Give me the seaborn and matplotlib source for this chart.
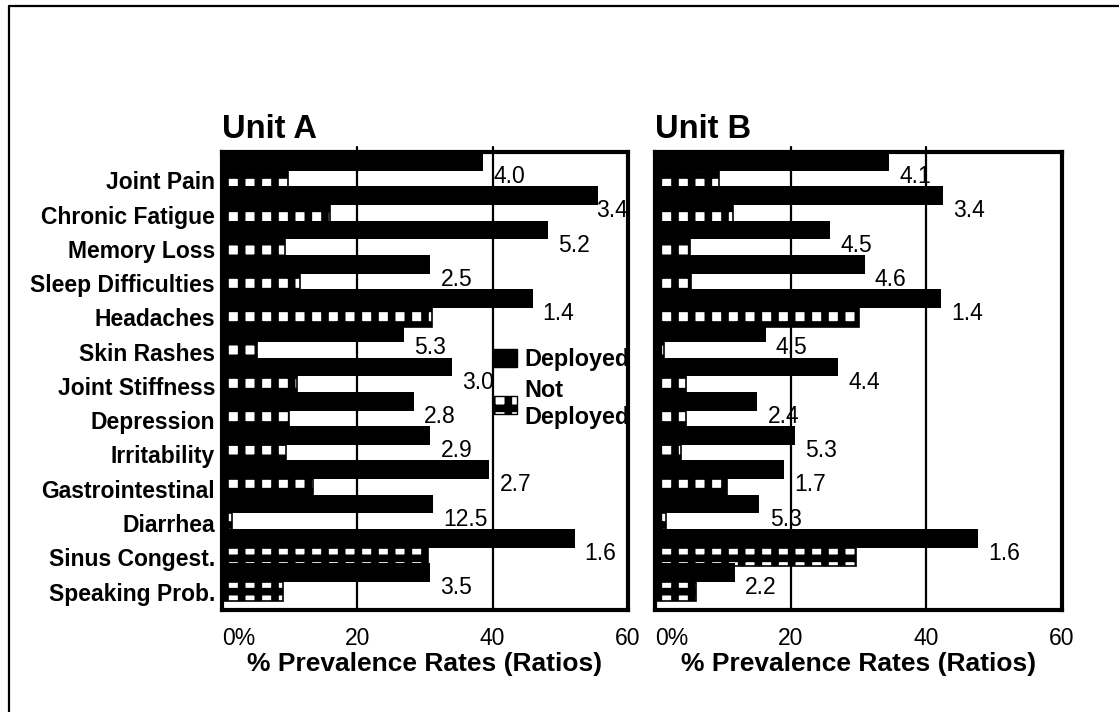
import numpy as np
import pandas as pd
import matplotlib
matplotlib.use("Agg")
import matplotlib.pyplot as plt
import seaborn as sns
from matplotlib.patches import Patch
from matplotlib.lines import Line2D

# ---------------- data ----------------
categories = ["Joint Pain", "Chronic Fatigue", "Memory Loss", "Sleep Difficulties",
              "Headaches", "Skin Rashes", "Joint Stiffness", "Depression",
              "Irritability", "Gastrointestinal", "Diarrhea", "Sinus Congest.",
              "Speaking Prob."]
unit_a_deployed = [38.6, 55.6, 48.2, 30.8, 45.9, 26.9, 34.0, 28.4, 30.8, 39.5, 31.2, 52.1, 30.8]
unit_a_not_deployed = [9.7, 16.0, 9.3, 11.6, 31.0, 5.2, 11.1, 9.9, 9.5, 13.5, 1.5, 30.5, 9.0]
unit_a_ratios = ["4.0", "3.4", "5.2", "2.5", "1.4", "5.3", "3.0", "2.8", "2.9", "2.7", "12.5", "1.6", "3.5"]
unit_b_deployed = [34.5, 42.5, 25.8, 30.9, 42.1, 16.3, 27.0, 15.1, 20.6, 19.0, 15.4, 47.6, 11.8]
unit_b_not_deployed = [9.4, 11.5, 5.2, 5.3, 30.1, 1.3, 4.5, 4.6, 3.9, 10.6, 1.6, 29.7, 6.1]
unit_b_ratios = ["4.1", "3.4", "4.5", "4.6", "1.4", "4.5", "4.4", "2.4", "5.3", "1.7", "5.3", "1.6", "2.2"]
groups = ["Deployed", "Not Deployed"]
legend_labels = ["Deployed", "Not\nDeployed"]
panel_titles = ["Unit A", "Unit B"]
x_ticks = [0, 20, 40, 60]
x_ticklabels = ["0%", "20", "40", "60"]
grid_values = [20, 40]
x_label = "% Prevalence Rates (Ratios)"

# ---------------- style ----------------
sns.set_style("white")
plt.rcParams["font.family"] = ["Liberation Sans", "DejaVu Sans"]
plt.rcParams["text.color"] = "black"
plt.rcParams["axes.labelcolor"] = "black"
plt.rcParams["xtick.color"] = "black"
plt.rcParams["ytick.color"] = "black"
plt.rcParams["hatch.linewidth"] = 5.5
plt.rcParams["hatch.color"] = "black"

W, H = 1119, 712
fig = plt.figure(figsize=(W / 100, H / 100), dpi=100)
fig.patch.set_facecolor("white")

axA = fig.add_axes([222 / W, 1 - 610 / H, 406 / W, 458 / H])
axB = fig.add_axes([655 / W, 1 - 610 / H, 407 / W, 458 / H])

HATCH = "+"


def draw_panel(ax, dep, nd, ratios, title, show_cats):
    df = pd.DataFrame({
        "cat": categories * 2,
        "val": dep + nd,
        "grp": [groups[0]] * len(categories) + [groups[1]] * len(categories),
    })
    sns.barplot(data=df, y="cat", x="val", hue="grp", order=categories,
                hue_order=groups, palette=["black", "black"], orient="h",
                width=1.1, gap=0, errorbar=None, saturation=1, legend=False, ax=ax)
    n = len(categories)
    for i, p in enumerate(ax.patches):
        if i < n:
            p.set_facecolor("black")
            p.set_edgecolor("black")
            p.set_linewidth(0)
            p.set_zorder(3)
        else:
            p.set_facecolor("white")
            p.set_edgecolor("black")
            p.set_linewidth(1.2)
            p.set_hatch(HATCH)
            p.set_zorder(2)

    for v in grid_values:
        ax.axvline(v, ymin=0, ymax=1.012, color="black", lw=1.6, zorder=1, clip_on=False)

    for i, (d, r) in enumerate(zip(dep, ratios)):
        ax.text(min(d + 1.5, 55.3), i + 0.17, r, ha="left", va="center",
                fontsize=16.5, color="black", zorder=5)

    ax.set_xlim(0, 60)
    ax.set_ylim(12.82, -0.55)
    ax.set_xticks(x_ticks, x_ticklabels)
    ax.tick_params(axis="x", length=0, pad=12, labelsize=16.5, labelcolor="black")
    ax.get_xticklabels()[0].set_ha("left")
    if show_cats:
        ax.set_yticks(np.arange(n) + 0.28, categories)
        ax.tick_params(axis="y", length=0, pad=5, labelsize=16.5, labelcolor="black")
        for t in ax.get_yticklabels():
            t.set_fontweight("bold")
    else:
        ax.set_yticks([])
    ax.set_ylabel("")
    ax.set_xlabel(x_label, fontsize=19, fontweight="bold", labelpad=2, color="black")
    ax.set_title(title, loc="left", fontsize=23.5, fontweight="bold", pad=10, color="black")
    for s in ax.spines.values():
        s.set_visible(True)
        s.set_color("black")
        s.set_linewidth(3)
        s.set_zorder(6)


draw_panel(axA, unit_a_deployed, unit_a_not_deployed, unit_a_ratios, panel_titles[0], True)
draw_panel(axB, unit_b_deployed, unit_b_not_deployed, unit_b_ratios, panel_titles[1], False)

handles = [Patch(facecolor="black", edgecolor="black"),
           Patch(facecolor="white", edgecolor="black", hatch=HATCH)]
leg = axA.legend(handles, legend_labels, loc="upper left", bbox_to_anchor=(0.67, 0.572),
                 frameon=False, prop={"weight": "bold", "size": 16.8},
                 handlelength=1.0, handleheight=0.85, handletextpad=0.3,
                 borderpad=0, borderaxespad=0, labelspacing=0.35)
for t in leg.get_texts():
    t.set_color("black")
leg.set_zorder(7)

# outer frame (left and top edges visible)
fig.add_artist(Line2D([9 / W, 9 / W], [0, 1 - 6 / H], color="black", lw=1.6))
fig.add_artist(Line2D([9 / W, 1], [1 - 6 / H, 1 - 6 / H], color="black", lw=1.6))

fig.savefig("out.png", dpi=100, facecolor="white")
